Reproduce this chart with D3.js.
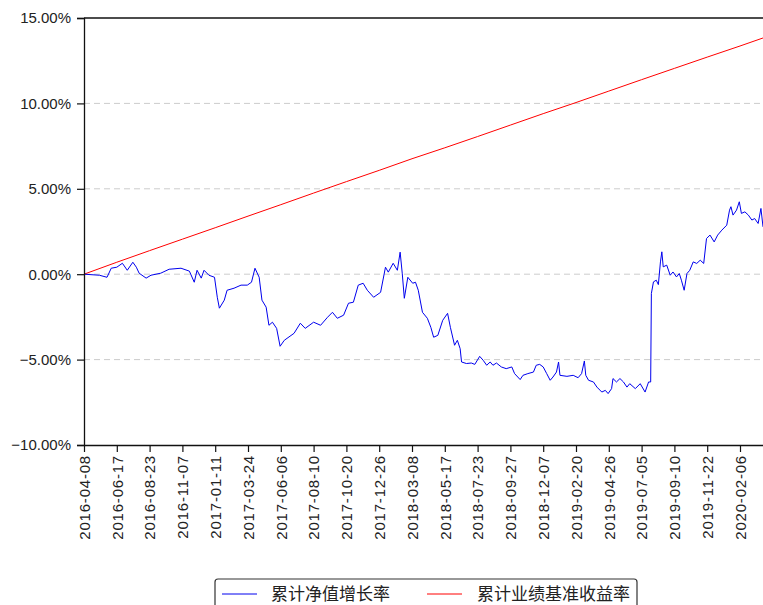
<!DOCTYPE html>
<html>
<head>
<meta charset="utf-8">
<script src="https://cdn.jsdelivr.net/npm/d3@7/dist/d3.min.js"></script>
<style>
  html, body { margin: 0; padding: 0; background: #fff; overflow: hidden; }
  #chart { width: 763px; height: 605px; }
  .tick text { font-family: "Liberation Sans", Arial, sans-serif; fill: #222; }
</style>
</head>
<body>
<div id="chart"></div>
<script>
// x axis is trading-day index, one label every 47 trading days
var tickLabels = ["2016-04-08","2016-06-17","2016-08-23","2016-11-07","2017-01-11","2017-03-24",
  "2017-06-06","2017-08-10","2017-10-20","2017-12-26","2018-03-08","2018-05-17","2018-07-23",
  "2018-09-27","2018-12-07","2019-02-20","2019-04-26","2019-07-05","2019-09-10","2019-11-22","2020-02-06"];
var tickDays = [0,47,94,141,188,235,282,329,376,423,470,517,564,611,658,705,752,799,846,893,940];

var yTicks = [-10,-5,0,5,10,15];
var gridTicks = [-5,0,5,10];

// 累计净值增长率 (%)
var navDay = [0,22,33,39,47,55,62,70,75,79,89,96,110,122,139,151,158,162,168,172,
  179,187,191,194,201,205,215,225,234,240,245,251,255,261,265,270,276,281,287,301,
  310,317,329,339,349,356,363,372,379,386,393,400,406,415,425,432,436,443,449,453,
  456,459,464,471,475,479,485,492,497,501,507,514,521,
  525,531,535,539,541,548,555,560,567,572,577,582,586,591,598,605,613,617,625,629,
  636,644,648,653,658,663,668,672,677,680,682,692,701,708,713,717,719,723,730,735,
  742,747,751,756,758,763,768,773,778,782,790,797,804,809,812,813,816,820,823,826,
  828,830,835,840,844,849,853,856,860,864,868,873,878,883,888,892,897,903,908,914,
  921,925,927,930,935,939,942,947,952,957,961,966,970,973];
var navPct = [0,-0.06,-0.18,0.35,0.41,0.64,0.23,0.70,0.41,0.06,-0.23,-0.06,0.06,0.29,0.35,0.18,-0.47,0.23,-0.23,0.23,
  -0.06,-0.18,-1.35,-1.99,-1.52,-0.94,-0.82,-0.64,-0.64,-0.47,0.35,-0.18,-1.52,-1.93,-2.99,-2.81,-3.17,-4.22,-3.87,-3.46,
  -2.87,-3.17,-2.81,-2.99,-2.52,-2.23,-2.58,-2.40,-1.70,-1.64,-0.64,-0.53,-0.94,-1.35,-1.06,0.41,0.12,0.64,0.23,1.29,
  0.06,-1.41,-0.18,-0.53,-0.47,-0.94,-2.23,-2.58,-3.11,-3.69,-3.58,-2.70,-2.29,
  -3.11,-4.16,-3.87,-4.36,-5.14,-5.23,-5.20,-5.28,-4.81,-5.04,-5.33,-5.14,-5.33,-5.20,-5.43,-5.53,-5.43,-5.82,-6.17,-5.92,
  -5.82,-5.73,-5.33,-5.28,-5.43,-5.82,-6.21,-6.02,-5.73,-5.14,-5.92,-5.98,-5.92,-6.06,-5.82,-5.08,-5.92,-6.21,-6.31,-6.61,
  -6.90,-6.80,-6.99,-6.70,-6.11,-6.31,-6.11,-6.31,-6.61,-6.41,-6.70,-6.41,-6.90,-6.31,-6.31,-1.13,-0.45,-0.35,-0.61,0.72,
  1.31,0.43,0.53,-0.06,0.13,-0.16,0.04,-0.35,-0.94,0.04,0.23,0.72,0.63,0.82,0.63,2.09,2.29,1.89,2.29,2.58,
  2.87,3.75,3.95,3.46,3.75,4.24,3.56,3.65,3.46,3.17,3.26,2.97,3.85,2.77];

// 累计业绩基准收益率 (%)
var benchDay = [0,47,94,141,188,235,282,329,376,423,470,517,564,611,658,705,752,799,846,893,940,973];
var benchPct = [0,0.70,1.38,2.05,2.72,3.40,4.07,4.75,5.42,6.08,6.76,7.40,8.06,8.73,9.40,10.05,10.72,11.39,12.05,12.71,13.36,13.83];

var seriesNames = ["累计净值增长率","累计业绩基准收益率"];
var seriesColors = ["#0000ee","#ff0000"];

var width=763, height=605;
var plotLeft=84, plotTop=18, plotBottom=445;
var dayPx=32.8/47;

var svg=d3.select("#chart").append("svg")
  .attr("width",width).attr("height",height);

var x=d3.scaleLinear().domain([0,980]).range([plotLeft,plotLeft+980*dayPx]);
var y=d3.scaleLinear().domain([-10,15]).range([plotBottom,plotTop]);

// dashed grid
svg.append("g").selectAll("line")
  .data(gridTicks).enter().append("line")
  .attr("x1",plotLeft).attr("x2",x(980))
  .attr("y1",function(d){return y(d);}).attr("y2",function(d){return y(d);})
  .attr("stroke","#cccccc").attr("stroke-width",1)
  .attr("stroke-dasharray","6,4");

var line=d3.line()
  .x(function(d){return x(d[0]);})
  .y(function(d){return y(d[1]);});

svg.append("path")
  .datum(benchDay.map(function(d,i){return [d,benchPct[i]];}))
  .attr("d",line).attr("fill","none")
  .attr("stroke",seriesColors[1]).attr("stroke-width",1);

svg.append("path")
  .datum(navDay.map(function(d,i){return [d,navPct[i]];}))
  .attr("d",line).attr("fill","none")
  .attr("stroke",seriesColors[0]).attr("stroke-width",1);

// frame top
svg.append("line")
  .attr("x1",plotLeft).attr("x2",x(980)).attr("y1",plotTop).attr("y2",plotTop)
  .attr("stroke","#111").attr("stroke-width",1.3);

var yAxis=svg.append("g")
  .attr("transform","translate("+plotLeft+",0)")
  .call(d3.axisLeft(y).tickValues(yTicks).tickSize(7).tickPadding(6)
    .tickFormat(function(d){return (d<0?"\u2212":"")+Math.abs(d).toFixed(2)+"%";}));
yAxis.selectAll("text").style("font-size","15px");

var xAxis=svg.append("g")
  .attr("transform","translate(0,"+plotBottom+")")
  .call(d3.axisBottom(x).tickValues(tickDays).tickSize(7).tickSizeOuter(0)
    .tickFormat(function(d,i){return tickLabels[i];}));
xAxis.selectAll("text")
  .style("font-size","15px")
  .style("letter-spacing","0.8px")
  .attr("text-anchor","end")
  .attr("transform","rotate(-90)")
  .attr("x",-10).attr("y",0).attr("dy","0.35em");

svg.selectAll(".domain").attr("stroke","#111").attr("stroke-width",1.3);
svg.selectAll(".tick line").attr("stroke","#111").attr("stroke-width",1.2);

// legend
var lg=svg.append("g");
lg.append("rect")
  .attr("x",215).attr("y",579).attr("width",422).attr("height",40)
  .attr("rx",3).attr("fill","#fff").attr("stroke","#333").attr("stroke-width",1.2);
var lgX=[222,427];
var txtX=[271,477];
seriesNames.forEach(function(n,i){
  lg.append("line")
    .attr("x1",lgX[i]).attr("x2",lgX[i]+35).attr("y1",594).attr("y2",594)
    .attr("stroke",seriesColors[i]).attr("stroke-width",1);
  lg.append("text")
    .attr("x",txtX[i]).attr("y",600)
    .style("font-family","'Noto Sans CJK SC', sans-serif")
    .style("font-size","17px").attr("fill","#222")
    .text(n);
});
</script>
</body>
</html>
